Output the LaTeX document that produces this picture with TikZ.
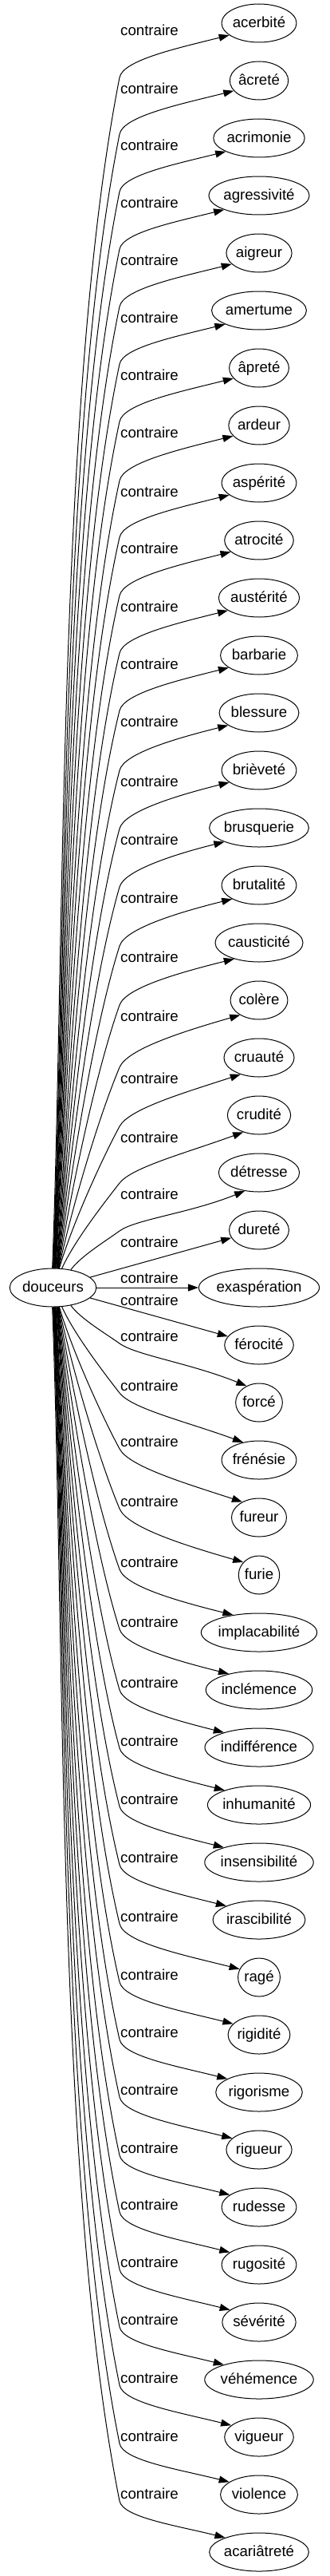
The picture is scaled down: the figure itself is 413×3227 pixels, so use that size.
\documentclass[tikz,border=0pt]{standalone}
\usepackage{fontspec}
\setmainfont{Liberation Sans}
\usetikzlibrary{shapes.geometric,arrows.meta,calc}
\newcommand\nodefont{\fontsize{18.67pt}{22pt}\selectfont}
\tikzset{
  tnode/.style={ellipse, draw=black, line width=1pt, inner sep=0pt, minimum height=48pt,
    font=\nodefont, text height=14pt, text depth=3pt},
  lab/.style={font=\nodefont, inner sep=0pt, text height=14pt, text depth=3pt},
  arr/.style={draw=black, line width=1pt, -{Triangle[length=13pt,width=9pt]}}
}
\begin{document}
\begin{tikzpicture}[x=1pt,y=1pt]
\path[fill=white,use as bounding box] (0,0) rectangle (413,-3227);
\setbox0=\hbox{\nodefont douceurs}
\pgfmathsetmacro\nW{1.414*(0.885*\the\wd0+21.1)}
\node[tnode, minimum width=\nW pt] (d) at (66.5,-1613) {douceurs};
\foreach \t/\ly/\by [count=\i from 0] in {
acerbité/39/97, âcreté/112/168, acrimonie/183/240, agressivité/255/312,
aigreur/327/384, amertume/399/456, âpreté/471/528, ardeur/543/602,
aspérité/617/673, atrocité/688/746, austérité/761/818, barbarie/833/890,
blessure/905/965, brièveté/980/1038, brusquerie/1053/1111, brutalité/1126/1185,
causticité/1200/1259, colère/1274/1337, cruauté/1352/1411, crudité/1426/1482,
détresse/1497/1542, dureté/1557/0, exaspération/1602/0, férocité/1630/0,
forcé/1675/1683, frénésie/1737/1745, fureur/1807/1815, furie/1882/1890,
implacabilité/1958/1966, inclémence/2033/2041, indifférence/2109/2117,
inhumanité/2182/2190, insensibilité/2255/2263, irascibilité/2328/2336,
ragé/2402/2410, rigidité/2475/2483, rigorisme/2547/2555, rigueur/2619/2627,
rudesse/2692/2700, rugosité/2763/2771, sévérité/2835/2843, véhémence/2907/2915,
vigueur/2980/2988, violence/3053/3061, acariâtreté/3125/3133}{
  \pgfmathsetmacro\nY{-(29+72*\i)}
  \setbox0=\hbox{\nodefont \t}
  \pgfmathsetmacro\nW{1.414*(0.885*\the\wd0+21.1)}
  \node[tnode, minimum width=\nW pt] (t\i) at (325,\nY) {\t};
  \node[lab] (l\i) at (187.5,-\ly) {contraire};
  \pgfmathtruncatemacro\eD{abs(\i-22)}
  \ifnum\eD<2
    \draw[arr] (d) -- (t\i);
  \else
    \pgfmathsetmacro\eS{\i<22 ? 1 : -1}
    \pgfmathsetmacro\eK{\i<22 ? \i : 44-\i}
    \pgfmathsetmacro\eAS{\eS*(\eK<=18 ? 92-\eK*20/18 : (\eK==19 ? 65 : 45))}
    \pgfmathsetmacro\eO{max(6,min(15,15-(\eD-2)*1.5))}
    \pgfmathsetmacro\eRX{\nW/2}
    \pgfmathsetmacro\ePH{atan2(\eO, \eRX*sqrt(1-(\eO/24)^2))}
    \pgfmathsetmacro\eAT{180+\eS*\ePH}
    \pgfmathsetmacro\eAA{\eS*(14+max(0,6-\eD)*2)}
    \coordinate (b\i) at (150,-\by);
    \draw[arr] let \p1=(d.\eAS), \p2=(b\i), \p3=(t\i.\eAT),
      \n1={atan2(\y2-\y1,\x2-\x1)},
      \n2={atan2(\y3-\y2,\x3-\x2)},
      \n3={veclen(\x2-\x1,\y2-\y1)},
      \n4={veclen(\x3-\x2,\y3-\y2)},
      \n5={0.88*\n1+0.12*\n2},
      \n6={\n1+(\eS*90-\n1)*0.3}
     in (\p1) .. controls ({\x1+0.27*\n3*cos(\n6)},{\y1+0.27*\n3*sin(\n6)})
                  and ({\x2-0.27*\n3*cos(\n5)},{\y2-0.27*\n3*sin(\n5)}) .. (\p2)
              .. controls ({\x2+0.15*\n4*cos(\n5)},{\y2+0.15*\n4*sin(\n5)})
                  and ({\x3-0.45*\n4*cos(\eAA)},{\y3-0.45*\n4*sin(\eAA)}) .. (\p3);
  \fi
}
\end{tikzpicture}
\end{document}
